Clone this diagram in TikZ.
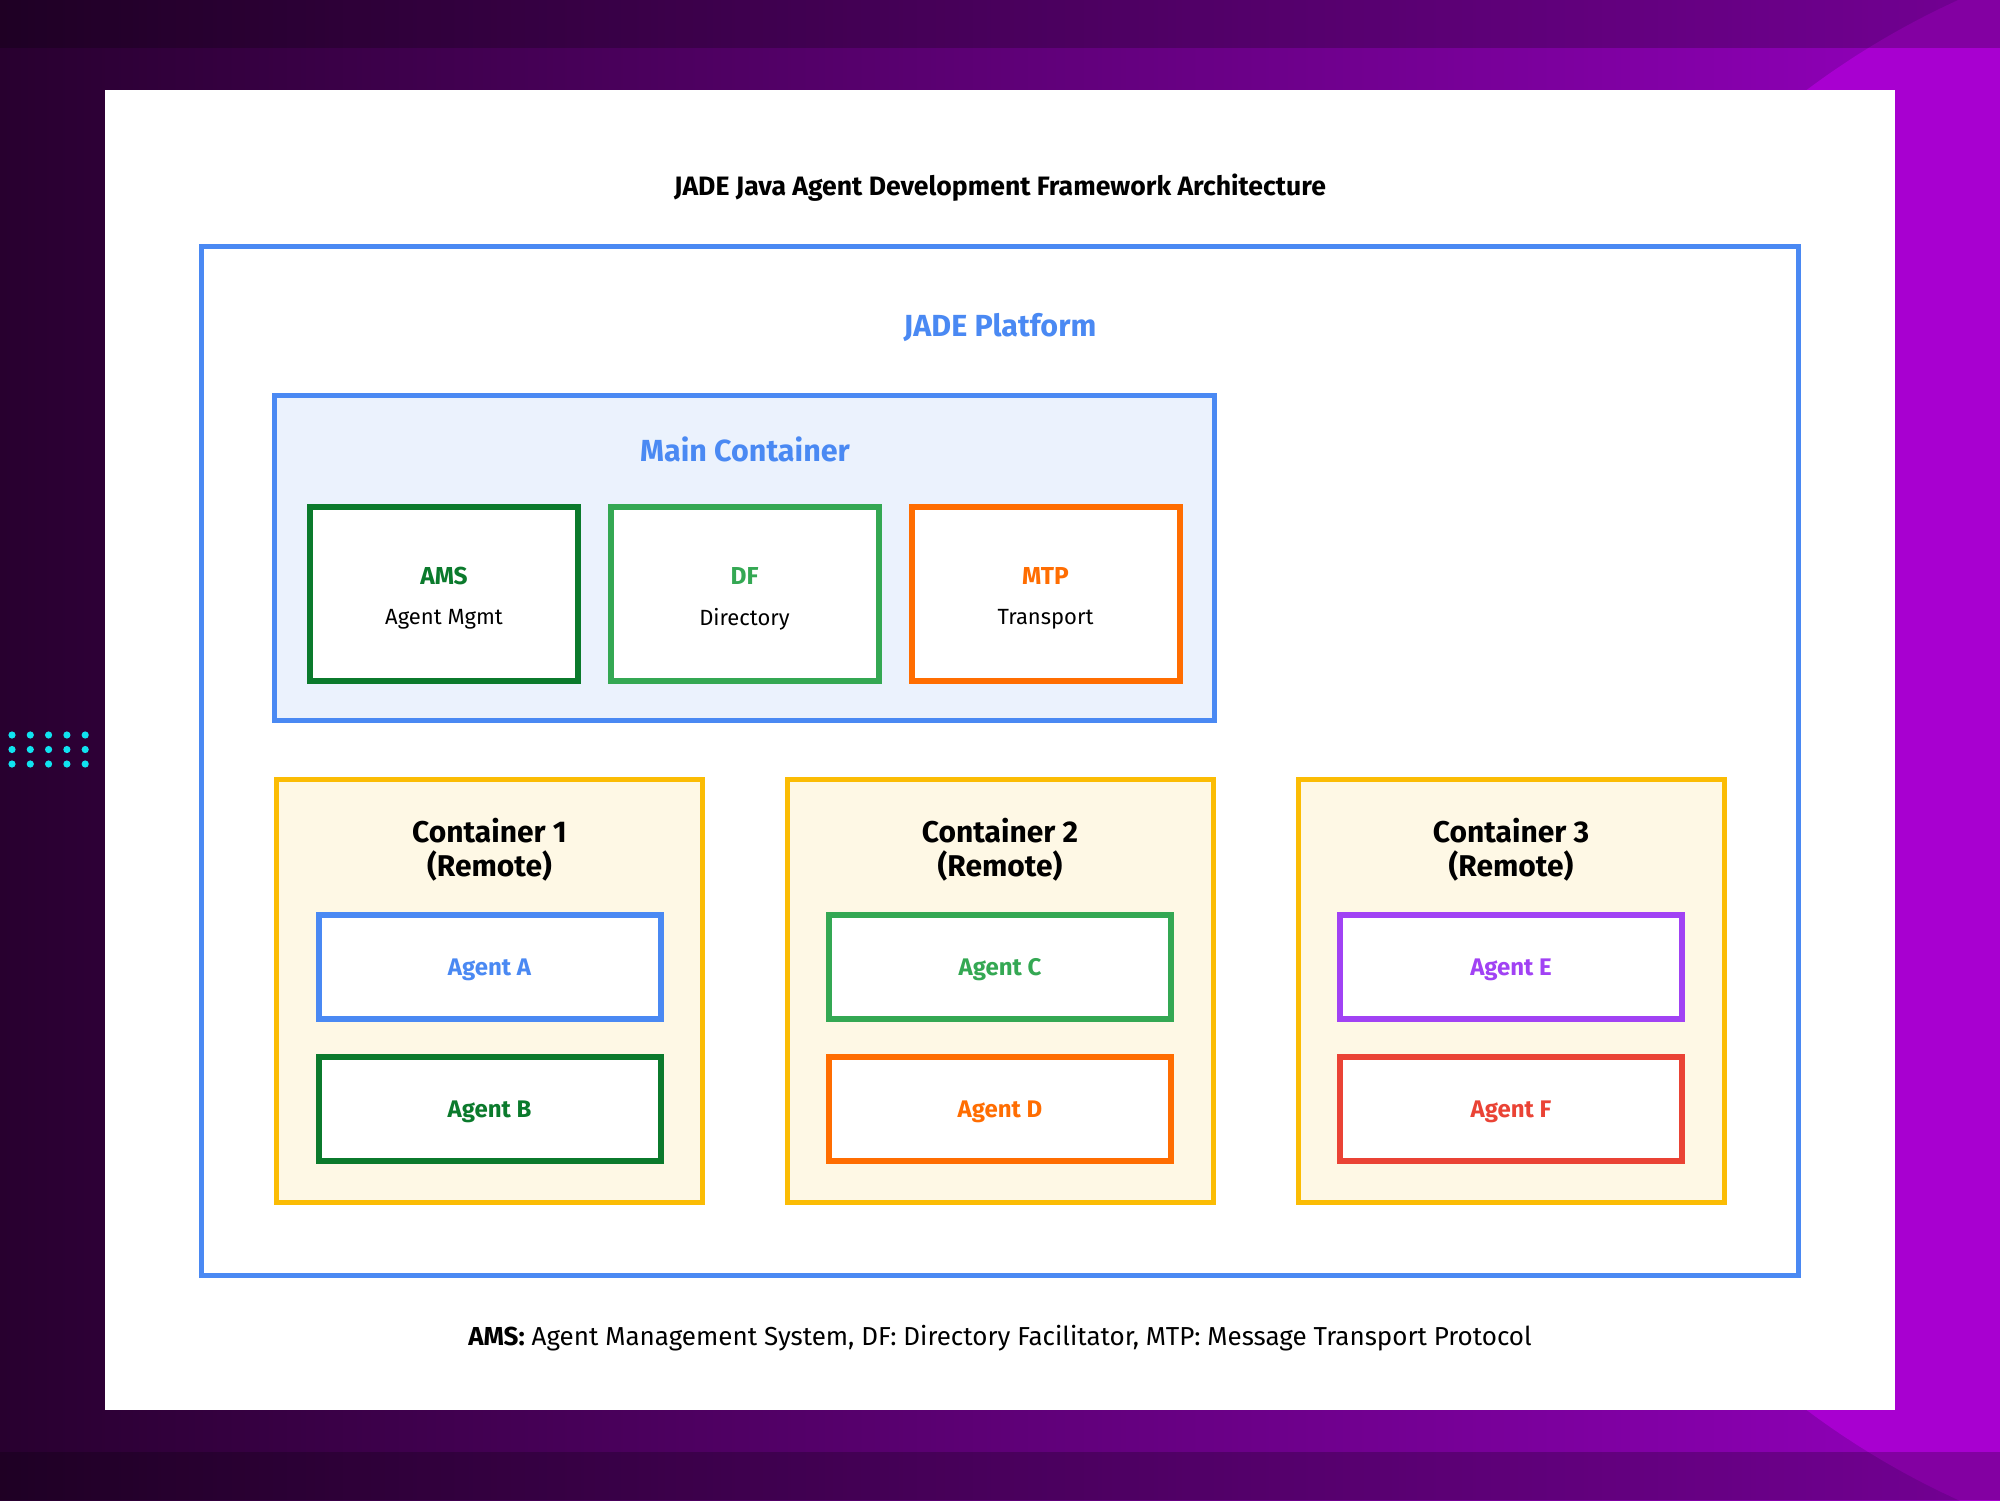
\documentclass[tikz,border=0pt]{standalone}
\usepackage{fontspec}
\setmainfont{Fira Sans}
\definecolor{gblue}{HTML}{4A89F3}
\definecolor{dgreen}{HTML}{0B7A2C}
\definecolor{lgreen}{HTML}{34A853}
\definecolor{gorange}{HTML}{FF6D01}
\definecolor{gpurple}{HTML}{A142F4}
\definecolor{gred}{HTML}{EA4335}
\definecolor{amber}{HTML}{FBBC04}
\definecolor{cream}{HTML}{FEF8E5}
\definecolor{lblue}{HTML}{EBF2FD}
\definecolor{bgleft}{HTML}{28002F}
\definecolor{bgright}{HTML}{9400BE}
\definecolor{bglight}{HTML}{A800D0}
\definecolor{cyandot}{HTML}{10E3F0}
\tikzset{
  box/.style={draw, line width=6pt, fill=white, inner sep=0pt},
  platbox/.style={draw=gblue, line width=5pt, inner sep=0pt},
  contbox/.style={draw=amber, fill=cream, line width=5pt, inner sep=0pt, minimum width=426pt, minimum height=423pt},
  compbox/.style={box, minimum width=268pt, minimum height=174pt},
  agentbox/.style={box, minimum width=342pt, minimum height=104pt},
  agenttxt/.style={font=\fontsize{24}{28}\selectfont\bfseries, yshift=-3pt},
  comptxt/.style={font=\fontsize{24.5}{28}\selectfont\bfseries},
  subtxt/.style={font=\fontsize{22}{26}\selectfont},
  heading/.style={font=\fontsize{30.5}{34}\selectfont\bfseries, align=center},
  conthead/.style={font=\fontsize{30}{34}\selectfont\bfseries, align=center, text=black},
}
\begin{document}
\begin{tikzpicture}[x=1pt,y=-1pt]
\useasboundingbox (0,0) rectangle (2000,1500);
% background
\shade[left color=bgleft, right color=bgright] (0,0) rectangle (2000,1500);
\fill[bglight] (2300,750) circle (824);
\fill[black, opacity=0.22] (0,0) rectangle (2000,48);
\fill[black, opacity=0.22] (0,1452) rectangle (2000,1500);
\foreach \i in {0,...,4} \foreach \j in {0,1,2}
  \fill[cyandot] (12+18.3*\i, 735+14.5*\j) circle (3.6);
% card
\fill[white] (105,90) rectangle (1895,1410);
\node[font=\fontsize{26.6}{30}\selectfont\bfseries] (title) at (1000,188) {JADE Java Agent Development Framework Architecture};
% platform
\node[platbox, minimum width=1597pt, minimum height=1029pt] (plat) at (1000,761) {};
\node[heading, text=gblue] (plattitle) at (1000,327) {JADE Platform};
% main container
\node[platbox, fill=lblue, minimum width=940pt, minimum height=325pt] (main) at (744.5,558) {};
\node[heading, text=gblue] (maintitle) at (745,449) {Main Container};
\node[compbox, draw=dgreen] (ams) at (444,594) {};
\node[compbox, draw=lgreen] (df) at (744.5,594) {};
\node[compbox, draw=gorange] (mtp) at (1045.5,594) {};
\node[comptxt, text=dgreen] (amsT) at (444,576) {AMS};
\node[subtxt] (amsS) at (444,619) {Agent Mgmt};
\node[comptxt, text=lgreen] (dfT) at (744.5,576) {DF};
\node[subtxt] (dfS) at (744.5,619) {Directory};
\node[comptxt, text=gorange] (mtpT) at (1045.5,576) {MTP};
\node[subtxt] (mtpS) at (1045.5,619) {Transport};
% containers
\node[contbox] (c1) at (489.5,991) {};
\node[contbox] (c2) at (1000,991) {};
\node[contbox] (c3) at (1511,991) {};
\node[conthead] (c1t) at (489.5,850) {Container 1\\(Remote)};
\node[conthead] (c2t) at (1000,850) {Container 2\\(Remote)};
\node[conthead] (c3t) at (1511,850) {Container 3\\(Remote)};
\node[agentbox, draw=gblue] (a) at (489.5,967) {};
\node[agenttxt, text=gblue] at (a) {Agent A};
\node[agentbox, draw=dgreen] (b) at (489.5,1109) {};
\node[agenttxt, text=dgreen] at (b) {Agent B};
\node[agentbox, draw=lgreen] (c) at (1000,967) {};
\node[agenttxt, text=lgreen] at (c) {Agent C};
\node[agentbox, draw=gorange] (d) at (1000,1109) {};
\node[agenttxt, text=gorange] at (d) {Agent D};
\node[agentbox, draw=gpurple] (e) at (1511,967) {};
\node[agenttxt, text=gpurple] at (e) {Agent E};
\node[agentbox, draw=gred] (f) at (1511,1109) {};
\node[agenttxt, text=gred] at (f) {Agent F};
% footer
\node[font=\fontsize{26}{30}\selectfont] (foot) at (1000,1338) {\textbf{AMS:} Agent Management System, DF: Directory Facilitator, MTP: Message Transport Protocol};
\end{tikzpicture}
\end{document}
